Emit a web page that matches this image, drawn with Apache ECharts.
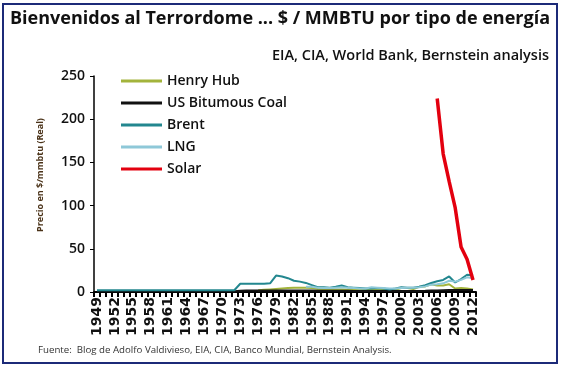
<!DOCTYPE html>
<html><head><meta charset="utf-8">
<script src="https://cdn.jsdelivr.net/npm/echarts@6/dist/echarts.min.js"></script>
<style>html,body{margin:0;padding:0;background:#fff}#c{width:563px;height:373px}</style>
</head><body><div id="c"></div>
<script>
const years = [];
for (let y = 1949; y <= 2012; y++) years.push(String(y));

// 1949..2012 (64 values); null = no data
const henryHub = [
  null,null,null,null,null,null,null,null,null,null, // 1949-1958
  null,null,null,null,null,null,null,null,null,null, // 1959-1968
  null,null,null,null,null,null,null,2,2.5,3,      // 1969-1978
  3.5,4,4.5,5,5,5,4.5,3.5,3,3,                       // 1979-1988
  3,3,2.5,3,3,2.5,2.3,3,3,2.5,                       // 1989-1998
  2.7,4.5,4.5,3.5,6,6.5,9,7.5,7.5,9,                 // 1999-2008
  4,4.5,4,2.8                                        // 2009-2012
];
const coal = [
  1,1,1,1,1,1,1,1,1,1,
  1,1,1,1,1,1,1,1,1,1,
  1,1,1,1,1.5,1.8,1.8,1.8,1.8,1.8,
  1.8,1.8,1.8,1.8,1.7,1.7,1.6,1.5,1.5,1.5,
  1.4,1.4,1.4,1.3,1.3,1.3,1.3,1.2,1.2,1.2,
  1.2,1.2,1.2,1.3,1.3,1.4,1.6,1.8,2,2.2,
  2.2,2.2,2.3,2.2
];
const brent = [
  2,2,2,2,2,2,2,2,2,2,
  2,2,2,2,2,2,2,2,2,2,
  2,2,2,2,9.5,9.5,9.5,9.5,9.5,10,
  19,18,16,13,12,10.5,8,5.5,5.5,5,
  6,7.5,5.5,5,4.5,4,4,4.5,4,3,
  4,5.5,5,5,6,8,10.5,12.5,14,18,
  11,15,20,19
];
const lng = [
  null,null,null,null,null,null,null,null,null,null,
  null,null,null,null,null,null,null,null,null,null,
  null,null,null,null,null,null,null,null,null,null,
  null,null,null,null,null,6,6,5,4.5,4.5,
  5,5.5,5,4.5,4,4,5.5,5,4.5,4,
  4,4.5,5,5,5.5,6.5,8.5,9,10,13,
  12,14,17,16
];
const solar = [
  null,null,null,null,null,null,null,null,null,null,
  null,null,null,null,null,null,null,null,null,null,
  null,null,null,null,null,null,null,null,null,null,
  null,null,null,null,null,null,null,null,null,null,
  null,null,null,null,null,null,null,null,null,null,
  null,null,null,null,null,null,null,224,160,128,
  98,52,38,14
];

const FONT = '"Open Sans", Lato, sans-serif';
const chart = echarts.init(document.getElementById('c'), null, {renderer: 'canvas'});

function line(name, data, color, width) {
  return {name, type: 'line', data, symbol: 'none', showSymbol: false, connectNulls: false,
    lineStyle: {color, width}, itemStyle: {color}, z: name === 'Solar' ? 5 : 2};
}

chart.setOption({
  animation: false,
  backgroundColor: '#fff',
  textStyle: {fontFamily: FONT},
  grid: {left: 94, right: 87, top: 76, bottom: 81, containLabel: false},
  graphic: [
    {type: 'rect', shape: {x: 3, y: 4, width: 554, height: 359},
     style: {fill: 'none', stroke: '#1c2a78', lineWidth: 2}},
    {type: 'text', left: 10, top: 10,
     style: {text: 'Bienvenidos al Terrordome ... $ / MMBTU por tipo de energía',
             font: 'bold 18px ' + FONT, fill: '#111'}},
    {type: 'text', right: 14, top: 48,
     style: {text: 'EIA, CIA, World Bank, Bernstein analysis',
             font: '600 14.5px ' + FONT, fill: '#111', textAlign: 'right'}},
    {type: 'text', x: 40, y: 175, rotation: Math.PI / 2,
     style: {text: 'Precio en $/mmbtu (Real)', font: 'bold 9px ' + FONT, fill: '#4a3218',
             textAlign: 'center', textVerticalAlign: 'middle'}},
    {type: 'text', left: 38, top: 345,
     style: {text: 'Fuente:  Blog de Adolfo Valdivieso, EIA, CIA, Banco Mundial, Bernstein Analysis.',
             font: '9.7px ' + FONT, fill: '#333'}}
  ],
  legend: {
    orient: 'vertical', left: 116, top: 69,
    itemWidth: 41, itemHeight: 3, itemGap: 8, icon: 'rect',
    textStyle: {fontSize: 14, fontWeight: 600, color: '#111', fontFamily: FONT, lineHeight: 14},
    data: ['Henry Hub', 'US Bitumous Coal', 'Brent', 'LNG', 'Solar']
  },
  xAxis: {
    type: 'category', data: years, boundaryGap: true,
    axisLine: {lineStyle: {color: '#000', width: 2}},
    axisTick: {show: true, interval: 0, length: 5, lineStyle: {color: '#000', width: 2}},
    axisLabel: {interval: 2, rotate: 90, margin: 5, fontSize: 14, fontWeight: 'bold', color: '#111',
                fontFamily: '"DejaVu Sans", sans-serif'}
  },
  yAxis: {
    type: 'value', min: 0, max: 250, interval: 50,
    axisLine: {show: true, lineStyle: {color: '#000', width: 1.5}},
    axisTick: {show: true, length: 4, lineStyle: {color: '#000'}},
    splitLine: {show: false},
    axisLabel: {fontSize: 14, fontWeight: 600, color: '#111', margin: 9, fontFamily: FONT}
  },
  series: [
    line('Henry Hub', henryHub, '#a3b43c', 2),
    line('US Bitumous Coal', coal, '#111111', 2),
    line('Brent', brent, '#23878f', 2),
    line('LNG', lng, '#8ec8d8', 2),
    line('Solar', solar, '#e3000f', 3.5)
  ]
});
</script></body></html>
